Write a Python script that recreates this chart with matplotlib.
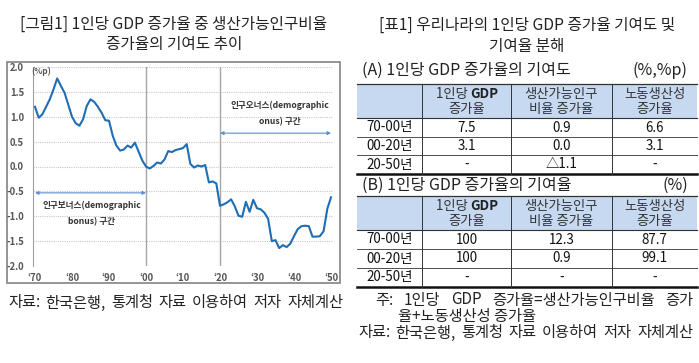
import numpy as np
import matplotlib
matplotlib.use('Agg')
import matplotlib.pyplot as plt
from matplotlib.patches import Rectangle

plt.rcParams['font.family'] = ['Noto Sans CJK KR', 'DejaVu Sans']
plt.rcParams['axes.unicode_minus'] = False

# ====================================
# Chart data (1인당 GDP 증가율 중 생산가능인구비율 증가율의 기여도, %p)
# ====================================
years = np.arange(1970, 2051)
contrib = [1.20, 0.98, 1.05, 1.20, 1.35, 1.55, 1.77, 1.62, 1.48, 1.24,
           1.00, 0.87, 0.82, 0.95, 1.22, 1.35, 1.30, 1.20, 1.08, 0.93,
           0.92, 0.62, 0.42, 0.32, 0.34, 0.42, 0.38, 0.48, 0.30, 0.12,
           0.00, -0.04, 0.01, 0.08, 0.06, 0.14, 0.31, 0.29, 0.33, 0.35,
           0.37, 0.45, 0.05, -0.02, 0.02, 0.00, 0.03, -0.32, -0.30, -0.34,
           -0.79, -0.76, -0.72, -0.66, -0.80, -0.99, -1.01, -0.71, -0.91, -0.67,
           -0.84, -0.86, -0.93, -1.05, -1.50, -1.48, -1.64, -1.58, -1.62, -1.55,
           -1.40, -1.26, -1.20, -1.19, -1.20, -1.41, -1.41, -1.40, -1.30, -0.85,
           -0.62]
xtick_years = [1970, 1980, 1990, 2000, 2010, 2020, 2030, 2040, 2050]
ytick_vals = [-2.0, -1.5, -1.0, -0.5, 0.0, 0.5, 1.0, 1.5, 2.0]
bonus_span = [1970, 2000]
onus_span = [2020, 2050]

# ====================================
# Table data
# ====================================
periods = ['70-00년', '00-20년', '20-50년']
col_heads = [('1인당', 'GDP', '증가율'), ('생산가능인구', '', '비율 증가율'), ('노동생산성', '', '증가율')]
a_gdp = [7.5, 3.1, None]
a_pop = [0.9, 0.0, -1.1]
a_prod = [6.6, 3.1, None]
b_gdp = [100, 100, None]
b_pop = [12.3, 0.9, None]
b_prod = [87.7, 99.1, None]

def fmt(v):
    if v is None:
        return '-'
    if isinstance(v, int):
        return str(v)
    if v < 0:
        return '\u25b3{:.1f}'.format(-v)
    return '{:.1f}'.format(v)

# ====================================
# Figure + pixel overlay
# ====================================
W, H = 699, 363
fig = plt.figure(figsize=(W/100, H/100), dpi=100)
ov = fig.add_axes([0, 0, 1, 1])
ov.set_xlim(0, W)
ov.set_ylim(H, 0)
ov.axis('off')
r = fig.canvas.get_renderer()

def justify(words, x0, x1, y, **kw):
    texts = [ov.text(0, y, w, va='center', ha='left', **kw) for w in words]
    widths = [t.get_window_extent(r).width for t in texts]
    gap = (x1 - x0 - sum(widths))/(len(words) - 1)
    x = x0
    for t, w in zip(texts, widths):
        t.set_x(x)
        x += w + gap

# titles
title_kw = dict(ha='center', va='center', fontsize=11.3, color='#222222')
ov.text(174, 24, '[그림1] 1인당 GDP 증가율 중 생산가능인구비율', **title_kw)
ov.text(174, 44, '증가율의 기여도 추이', **title_kw)
ov.text(527, 25, '[표1] 우리나라의 1인당 GDP 증가율 기여도 및', **title_kw)
ov.text(527, 46, '기여율 분해', **title_kw)

# chart frame
ov.add_patch(Rectangle((7, 62), 333, 221, fill=False, edgecolor='#8c8c8c', lw=1.3))

# ====================================
# Line chart
# ====================================
px_yr = 3.7
x_left = 1970 - 2/px_yr
ax = fig.add_axes([33/W, (H-266)/H, 300/W, 199/H])
ax.set_facecolor('none')
ax.plot(years, contrib, color='#1f6db5', lw=1.5, zorder=3)
ax.set_xlim(x_left, x_left + 300/px_yr)
ax.set_ylim(-2, 2)
ax.set_yticks(ytick_vals)
ax.set_yticklabels(['{:.1f}'.format(v) for v in ytick_vals])
ax.set_xticks(xtick_years)
ax.set_xticklabels(['\u2018{:02d}'.format(y % 100) for y in xtick_years])
ax.tick_params(length=0, labelsize=6.8, labelcolor='#555555')
ax.tick_params(axis='y', pad=6.5)
ax.tick_params(axis='x', pad=5)
for lab in ax.get_xticklabels() + ax.get_yticklabels():
    lab.set_fontweight('bold')
for v in ytick_vals:
    ax.axhline(v, color='#c8c8c8', lw=0.8, ls=(0, (1, 1)), zorder=1)
for s in ['top', 'right', 'bottom']:
    ax.spines[s].set_visible(False)
ax.spines['left'].set_color('#a0a0a0')
ax.axvline(2000, color='#a6a6a6', lw=1, zorder=2)
ax.axvline(2020, color='#a6a6a6', lw=1, zorder=2)
ax.text(x_left - 2/px_yr, 1.92, '(%p)', fontsize=6, fontweight='bold', color='#555555', ha='left', va='center')

arrow_kw = dict(arrowstyle='<|-|>', color='#5b8fd0', lw=0.8, mutation_scale=5, shrinkA=0, shrinkB=0)
ax.annotate('', xy=(bonus_span[0], -0.53), xytext=(bonus_span[1], -0.53), arrowprops=arrow_kw)
ax.annotate('', xy=(onus_span[0], 0.67), xytext=(onus_span[1], 0.67), arrowprops=arrow_kw)
note_kw = dict(ha='center', va='center', fontsize=6.2, color='#333333', fontweight='bold')
ax.text(1985.4, -0.79, '인구보너스(demographic', **note_kw)
ax.text(1985.4, -1.12, 'bonus) 구간', **note_kw)
ax.text(2036.2, 1.22, '인구오너스(demographic', **note_kw)
ax.text(2036.2, 0.89, 'onus) 구간', **note_kw)

justify(['자료:', '한국은행,', '통계청', '자료', '이용하여', '저자', '자체계산'], 8, 343, 303, fontsize=11, color='#222222')

# ====================================
# Tables
# ====================================
edges = [357, 422, 511, 612, 697]
centers = [(a + b)/2 for a, b in zip(edges[:-1], edges[1:])]
head_fill = '#c6d9f0'
cell_fs = 9.6

def draw_table(top, rows_y, cols):
    head_bot = top + 34
    ov.add_patch(Rectangle((edges[0], top), edges[-1] - edges[0], 34, facecolor=head_fill, edgecolor='none'))
    ov.plot([edges[0], edges[-1]], [top, top], color='#333333', lw=0.9)
    ov.plot([edges[0], edges[-1]], [head_bot, head_bot], color='#333333', lw=0.8)
    for yb in rows_y[1:-1]:
        ov.plot([edges[0], edges[-1]], [yb, yb], color='#333333', lw=0.6)
    ov.plot([edges[0], edges[-1]], [rows_y[-1], rows_y[-1]], color='#111111', lw=1.8)
    for xe in edges[1:-1]:
        ov.plot([xe, xe], [top, rows_y[-1]], color='#333333', lw=0.7)
    for (l1, bold, l2), cx in zip(col_heads, centers[1:]):
        if bold:
            ov.text(cx + 4, top + 10, l1 + ' ', ha='right', va='center', fontsize=cell_fs, color='#333333')
            ov.text(cx + 4, top + 10, bold, ha='left', va='center', fontsize=cell_fs, color='#222222', fontweight='bold')
        else:
            ov.text(cx, top + 10, l1, ha='center', va='center', fontsize=cell_fs, color='#333333')
        ov.text(cx, top + 25, l2, ha='center', va='center', fontsize=cell_fs, color='#333333')
    for i, p in enumerate(periods):
        yc = (rows_y[i] + rows_y[i + 1])/2
        ov.text(centers[0], yc, p, ha='center', va='center', fontsize=cell_fs, color='#111111')
        for cx, col in zip(centers[1:], cols):
            ov.text(cx, yc, fmt(col[i]), ha='center', va='center', fontsize=cell_fs, color='#111111')

ov.text(362, 70, '(A) 1인당 GDP 증가율의 기여도', ha='left', va='center', fontsize=11.5, color='#222222')
ov.text(688, 70, '(%,%p)', ha='right', va='center', fontsize=11.5, color='#222222')
draw_table(84, [118, 137, 155, 174], [a_gdp, a_pop, a_prod])

ov.text(362, 185, '(B) 1인당 GDP 증가율의 기여율', ha='left', va='center', fontsize=11.5, color='#222222')
ov.text(688, 185, '(%)', ha='right', va='center', fontsize=11.5, color='#222222')
draw_table(196, [230, 249, 268, 287], [b_gdp, b_pop, b_prod])

justify(['주:', '1인당', 'GDP', '증가율=생산가능인구비율', '증가'], 375, 693, 300, fontsize=11, color='#222222')
ov.text(398, 317, '율+노동생산성 증가율', ha='left', va='center', fontsize=11, color='#222222')
justify(['자료:', '한국은행,', '통계청', '자료', '이용하여', '저자', '자체계산'], 358, 693, 333, fontsize=11, color='#222222')

fig.savefig('out.png', dpi=100)
